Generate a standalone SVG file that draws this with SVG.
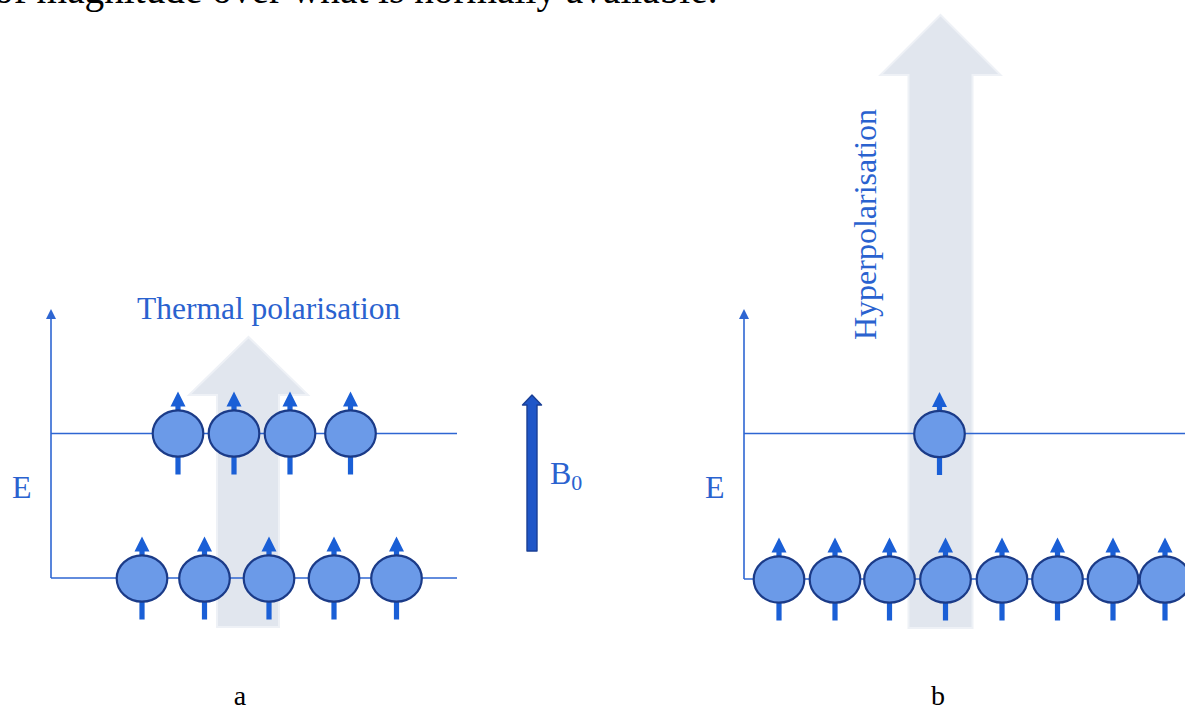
<svg xmlns="http://www.w3.org/2000/svg" xmlns:xlink="http://www.w3.org/1999/xlink" width="1185" height="713" viewBox="0 0 1185 713">
  <style>
    .serif { font-family: "Liberation Serif", "Times New Roman", serif; }
    .blue-text { fill: #2a62cf; }
    .level { stroke: #2e66d2; stroke-width: 1.6; fill: none; }
    .axis-head { fill: #2e66d2; }
    .big-arrow { fill: #e1e6ee; stroke: #eef1f6; stroke-width: 2; filter: url(#soft); }
    .spin-body { fill: #6b9ae8; stroke: #1b3b88; stroke-width: 2.2; }
    .spin-arrow { fill: #1a5fd6; }
  </style>
  <defs>
    <filter id="soft" x="-10%" y="-10%" width="120%" height="120%">
      <feGaussianBlur stdDeviation="0.7"/>
    </filter>
    <!-- one spin: a particle with its magnetic moment pointing up -->
    <g id="spin">
      <rect class="spin-arrow" x="-2.6" y="20" width="5.2" height="21"/>
      <rect class="spin-arrow" x="-2.6" y="-29" width="5.2" height="8"/>
      <polygon class="spin-arrow" points="0,-42 -7.5,-27 7.5,-27"/>
      <ellipse class="spin-body" cx="0" cy="0" rx="25.3" ry="23.2"/>
    </g>
  </defs>

  <rect width="1185" height="713" fill="#ffffff"/>

  <!-- running text line from the page above -->
  <text class="serif" x="-6" y="3" font-size="39.3" fill="#000000">of magnitude over what is normally available.</text>

  <!-- wide translucent arrows showing the degree of polarisation -->
  <g id="polarisation-arrows">
    <polygon id="thermal-arrow" class="big-arrow" points="248.5,337 308,395 279,395 279,627 217,627 217,395 189,395"/>
    <polygon id="hyper-arrow" class="big-arrow" points="940.5,15 1000.5,75 972.5,75 972.5,628 908.5,628 908.5,75 880.5,75"/>
  </g>

  <g id="connectors">
    <!-- panel a: energy axis and the two levels -->
    <line class="level" x1="51" y1="578" x2="51" y2="318"/>
    <polygon class="axis-head" points="51,309 46,319 56,319"/>
    <line class="level" x1="51" y1="433.5" x2="457" y2="433.5"/>
    <line class="level" x1="51" y1="578" x2="457" y2="578"/>
    <!-- panel b: energy axis and the two levels -->
    <line class="level" x1="744" y1="579" x2="744" y2="318"/>
    <polygon class="axis-head" points="744,309 739,319 749,319"/>
    <line class="level" x1="744" y1="433.5" x2="1185" y2="433.5"/>
    <line class="level" x1="744" y1="579" x2="1185" y2="579"/>
    <!-- external field B0 -->
    <polygon id="b0-arrow" points="532,395 541.5,405 537,405 537,551 527,551 527,405 522.5,405" fill="#1f56c8" stroke="#1a3f95" stroke-width="1.4" stroke-linejoin="round"/>
  </g>

  <!-- panel a, upper level -->
  <g id="a-up-1" transform="translate(178,433.5)"><use xlink:href="#spin"/></g>
  <g id="a-up-2" transform="translate(234,433.5)"><use xlink:href="#spin"/></g>
  <g id="a-up-3" transform="translate(290,433.5)"><use xlink:href="#spin"/></g>
  <g id="a-up-4" transform="translate(350.5,433.5)"><use xlink:href="#spin"/></g>

  <!-- panel a, lower level -->
  <g id="a-low-1" transform="translate(142,578.5)"><use xlink:href="#spin"/></g>
  <g id="a-low-2" transform="translate(204.5,578.5)"><use xlink:href="#spin"/></g>
  <g id="a-low-3" transform="translate(269,578.5)"><use xlink:href="#spin"/></g>
  <g id="a-low-4" transform="translate(334,578.5)"><use xlink:href="#spin"/></g>
  <g id="a-low-5" transform="translate(396.5,578.5)"><use xlink:href="#spin"/></g>

  <!-- panel b, upper level -->
  <g id="b-up-1" transform="translate(939.5,434)"><use xlink:href="#spin"/></g>

  <!-- panel b, lower level -->
  <g id="b-low-1" transform="translate(779,579.5)"><use xlink:href="#spin"/></g>
  <g id="b-low-2" transform="translate(835,579.5)"><use xlink:href="#spin"/></g>
  <g id="b-low-3" transform="translate(889.5,579.5)"><use xlink:href="#spin"/></g>
  <g id="b-low-4" transform="translate(945.5,579.5)"><use xlink:href="#spin"/></g>
  <g id="b-low-5" transform="translate(1002,579.5)"><use xlink:href="#spin"/></g>
  <g id="b-low-6" transform="translate(1057.5,579.5)"><use xlink:href="#spin"/></g>
  <g id="b-low-7" transform="translate(1113,579.5)"><use xlink:href="#spin"/></g>
  <g id="b-low-8" transform="translate(1165,579.5)"><use xlink:href="#spin"/></g>

  <!-- labels -->
  <g id="labels" class="serif">
    <text class="blue-text" x="137" y="319" font-size="31.5">Thermal polarisation</text>
    <text class="blue-text" x="0" y="0" font-size="32" transform="translate(876,340) rotate(-90)">Hyperpolarisation</text>
    <text class="blue-text" x="12" y="498" font-size="32">E</text>
    <text class="blue-text" x="705" y="498" font-size="32">E</text>
    <text class="blue-text" x="550" y="484" font-size="32">B<tspan font-size="22" dy="6">0</tspan></text>
    <text x="240" y="705" font-size="28" fill="#000000" text-anchor="middle">a</text>
    <text x="938" y="705" font-size="28" fill="#000000" text-anchor="middle">b</text>
  </g>
</svg>
